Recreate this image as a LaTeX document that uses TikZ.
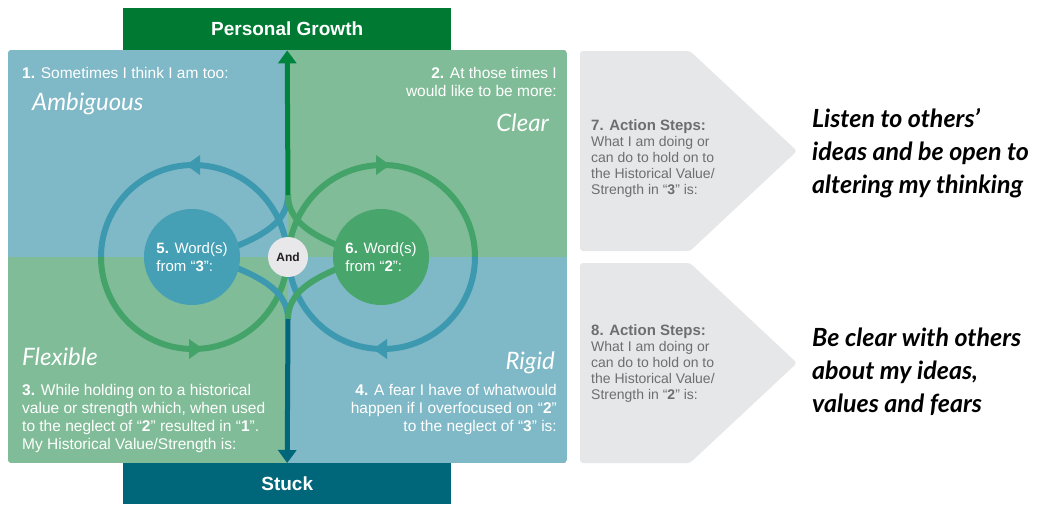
\documentclass[tikz,border=0pt]{standalone}
\usepackage{fontspec}
\setmainfont{Liberation Sans}
\newfontfamily\hand{Lato}
\usetikzlibrary{arrows.meta}
\definecolor{qblue}{HTML}{7FB8C6}
\definecolor{qgreen}{HTML}{80BC97}
\definecolor{lblue}{HTML}{3D99AF}
\definecolor{lgreen}{HTML}{43A368}
\definecolor{cblue}{HTML}{45A0B5}
\definecolor{cgreen}{HTML}{48A66C}
\definecolor{pgreen}{HTML}{007A33}
\definecolor{agreen}{HTML}{00843D}
\definecolor{stuckc}{HTML}{00667A}
\definecolor{chevc}{HTML}{E6E7E8}
\definecolor{chevtext}{HTML}{6D6E71}
\definecolor{andc}{HTML}{E8E8EA}
\definecolor{andtext}{HTML}{231F20}
\begin{document}
\begin{tikzpicture}[x=1pt,y=-1pt,
  banner/.style={minimum width=328pt, minimum height=42pt, anchor=north west, inner sep=0pt, text=white, font=\bfseries\fontsize{19}{22}\selectfont},
  qtext/.style={inner sep=0pt, text=white, font=\fontsize{15.5}{17.8}\selectfont},
  hw/.style={inner sep=0pt, text=white, font=\hand\itshape\fontsize{24}{30}\selectfont},
  hwblack/.style={inner sep=0pt, text=black, align=left, anchor=base west, font=\hand\itshape\bfseries\fontsize{25}{33}\selectfont},
  chtext/.style={inner sep=0pt, text=chevtext, align=left, anchor=base west, font=\fontsize{14}{16}\selectfont},
  loopline/.style={line width=6pt},
  wcircle/.style={circle, minimum size=96pt, inner sep=0pt, text=white, align=left, font=\fontsize{15}{17.5}\selectfont},
  axis/.style={line width=5pt, -{Triangle[length=13pt,width=18pt]}}
]
\useasboundingbox (0,0) rectangle (1045,504);
% banners
\node[banner, fill=pgreen] (pg) at (123,8) {Personal Growth};
\node[banner, fill=stuckc, minimum height=41pt] (st) at (123,463) {Stuck};
% quadrants
\begin{scope}
\clip[rounded corners=3pt] (8,50) rectangle (567,463);
\fill[qblue] (8,50) rectangle (288,257);
\fill[qgreen] (288,50) rectangle (567,257);
\fill[qgreen] (8,257) rectangle (288,463);
\fill[qblue] (288,257) rectangle (567,463);
\end{scope}
% quadrant texts (base anchor = baseline of the last line)
\node[qtext, anchor=base west] (t1) at (22,78) {\textbf{1.} Sometimes I think I am too:};
\node[hw, anchor=base west] (amb) at (32,110) {Ambiguous};
\node[qtext, anchor=base east, align=right] (t2) at (557,96) {\textbf{2.} At those times I\\would like to be more:};
\node[hw, anchor=base east] (clr) at (549,131) {Clear};
\node[hw, anchor=base west] (flx) at (22,365) {Flexible};
\node[hw, anchor=base east] (rgd) at (555,369) {Rigid};
\node[qtext, anchor=base west, align=left] (t3) at (22,449) {\textbf{3.} While holding on to a historical\\value or strength which, when used\\to the neglect of “\textbf{2}” resulted in “\textbf{1}”.\\My Historical Value/Strength is:};
\node[qtext, anchor=base east, align=right] (t4) at (557,431) {\textbf{4.} A fear I have of whatwould\\happen if I overfocused on “\textbf{2}”\\to the neglect of “\textbf{3}” is:};
% loops
\draw[loopline, lblue] (288,257) .. controls (285,205) and (245,165) .. (193,165) .. controls (142.2,165) and (101,206.2) .. (101,257);
\draw[loopline, lgreen] (101,257) .. controls (101,307.8) and (142.2,349) .. (193,349) .. controls (245,349) and (285,309) .. (288,257);
\draw[loopline, lgreen] (288,257) .. controls (291,205) and (331,165) .. (383,165) .. controls (433.8,165) and (475,206.2) .. (475,257);
\draw[loopline, lblue] (475,257) .. controls (475,307.8) and (433.8,349) .. (383,349) .. controls (331,349) and (291,309) .. (288,257);
% loop arrowheads
\fill[lblue] (186,165) -- (200,155) -- (200,175) -- cycle;
\fill[lgreen] (203,349) -- (189,339) -- (189,359) -- cycle;
\fill[lgreen] (390,165) -- (376,155) -- (376,175) -- cycle;
\fill[lblue] (373,349) -- (387,339) -- (387,359) -- cycle;
% merge points on the axis
\coordinate (vt) at (288,195);
\coordinate (vb) at (288,319);
% inner arcs
\draw[loopline, lblue] (232,248) .. controls (262,236) and (288,222) .. (vt);
\draw[loopline, lgreen] (344,248) .. controls (314,236) and (288,222) .. (vt);
\draw[loopline, lblue] (232,266) .. controls (262,278) and (288,292) .. (vb);
\draw[loopline, lgreen] (344,266) .. controls (314,278) and (288,292) .. (vb);
% axis
\draw[axis, agreen] (vt) -- (pg.south);
\draw[axis, stuckc] (vb) -- (st.north);
% circles
\node[wcircle, fill=cblue] (w5) at (192,257) {\textbf{5.} Word(s)\\from “\textbf{3}”:};
\node[wcircle, fill=cgreen] (w6) at (381,257) {\textbf{6.} Word(s)\\from “\textbf{2}”:};
\node[circle, fill=andc, minimum size=40pt, inner sep=0pt, text=andtext, font=\bfseries\fontsize{12}{14}\selectfont] (and) at (288,257) {And};
% chevrons
\fill[chevc, rounded corners=3pt] (580,51) -- (690,51) -- (797,151) -- (690,251) -- (580,251) -- cycle;
\fill[chevc, rounded corners=3pt] (580,263) -- (690,263) -- (797,363) -- (690,463) -- (580,463) -- cycle;
\node[chtext] (a7) at (591,194) {{\bfseries\fontsize{15}{16}\selectfont 7. Action Steps:}\\What I am doing or\\can do to hold on to\\the Historical Value/\\Strength in “\textbf{3}” is:};
\node[chtext] (a8) at (591,399) {{\bfseries\fontsize{15}{16}\selectfont 8. Action Steps:}\\What I am doing or\\can do to hold on to\\the Historical Value/\\Strength in “\textbf{2}” is:};
% handwritten answers
\node[hwblack] (h7) at (812,193) {Listen to others’\\ideas and be open to\\altering my thinking};
\node[hwblack] (h8) at (812,412) {Be clear with others\\about my ideas,\\values and fears};
\end{tikzpicture}
\end{document}
